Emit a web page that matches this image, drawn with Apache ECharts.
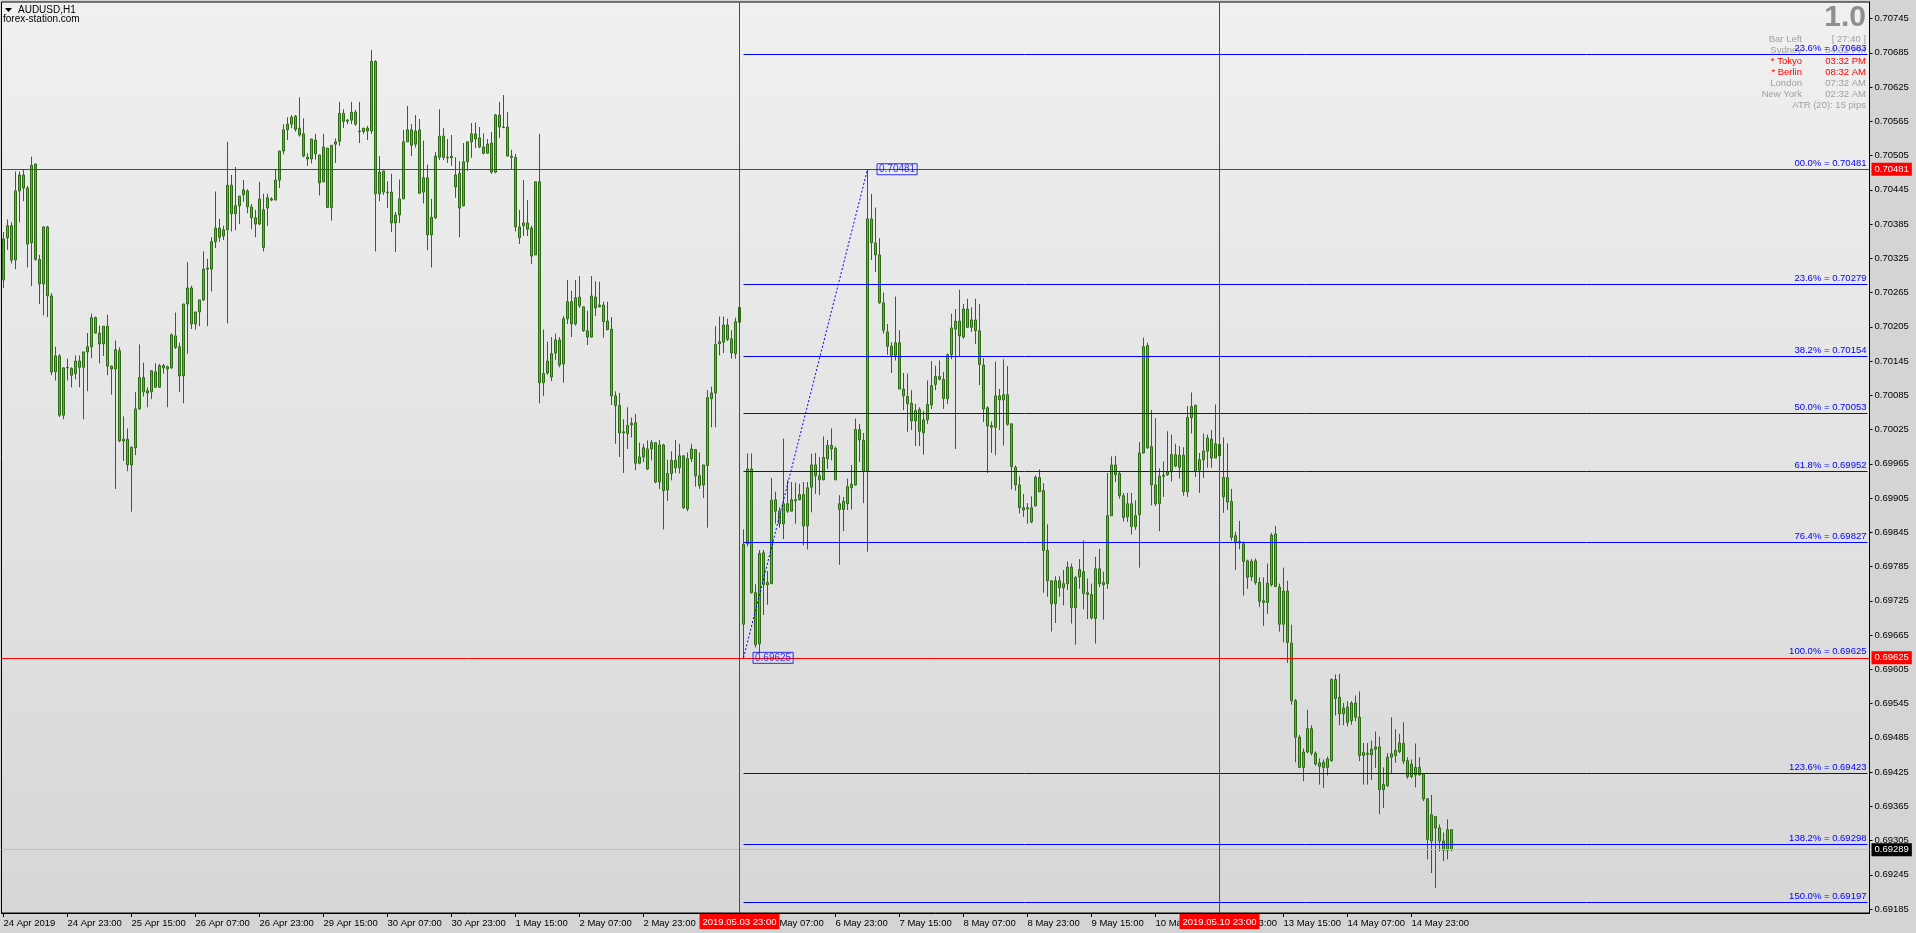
<!DOCTYPE html>
<html><head><meta charset="utf-8">
<script src="https://cdn.jsdelivr.net/npm/echarts@6/dist/echarts.min.js"></script>
<style>html,body{margin:0;padding:0;background:#d4d4d4;overflow:hidden}#c{width:1916px;height:933px}</style>
</head><body><div id="c"></div>
<script>
// ---- data (AUDUSD H1) ----
const opens=[
0.70287,0.70361,0.70382,0.70322,0.70443,0.70471,0.70448,0.70352,0.70490,0.70323,
0.70280,0.70380,0.70259,0.70126,0.70154,0.70050,0.70133,0.70132,0.70123,0.70145,
0.70134,0.70161,0.70170,0.70221,0.70194,0.70175,0.70206,0.70136,0.70131,0.70163,
0.70005,0.70008,0.69963,0.69993,0.70061,0.70116,0.70093,0.70091,0.70126,0.70099,
0.70137,0.70131,0.70133,0.70189,0.70170,0.70119,0.70245,0.70273,0.70210,0.70231,
0.70252,0.70306,0.70306,0.70354,0.70378,0.70364,0.70375,0.70453,0.70403,0.70417,
0.70436,0.70443,0.70415,0.70396,0.70385,0.70344,0.70413,0.70427,0.70427,0.70462,
0.70513,0.70550,0.70560,0.70574,0.70553,0.70543,0.70502,0.70499,0.70532,0.70506,
0.70459,0.70518,0.70414,0.70525,0.70530,0.70579,0.70565,0.70567,0.70581,0.70548,
0.70547,0.70553,0.70548,0.70670,0.70438,0.70478,0.70441,0.70441,0.70387,0.70401,
0.70429,0.70529,0.70550,0.70525,0.70550,0.70441,0.70466,0.70366,0.70396,0.70502,
0.70539,0.70502,0.70501,0.70450,0.70474,0.70417,0.70494,0.70529,0.70543,0.70536,
0.70520,0.70509,0.70527,0.70476,0.70576,0.70555,0.70555,0.70504,0.70502,0.70380,
0.70382,0.70387,0.70378,0.70331,0.70459,0.70107,0.70124,0.70117,0.70159,0.70182,
0.70140,0.70219,0.70249,0.70210,0.70257,0.70240,0.70198,0.70187,0.70257,0.70240,
0.70243,0.70215,0.70201,0.70084,0.70067,0.70019,0.70018,0.70033,0.70037,0.69966,
0.69977,0.69956,0.69991,0.70002,0.69933,0.69998,0.69919,0.69948,0.69971,0.69958,
0.69979,0.69886,0.69974,0.69990,0.69944,0.69928,0.69962,0.70079,0.70089,0.70175,
0.70178,0.70208,0.70184,0.70158,0.70239,0.69684,0.69825,0.69956,0.69739,0.69650,
0.69809,0.69753,0.69755,0.69902,0.69882,0.69860,0.69895,0.69882,0.69900,0.69902,
0.69911,0.69856,0.69924,0.69963,0.69944,0.69937,0.69974,0.69997,0.69992,0.69895,
0.69885,0.69895,0.69923,0.69928,0.70025,0.70006,0.69952,0.70394,0.70352,0.70331,
0.70247,0.70196,0.70171,0.70155,0.70177,0.70096,0.70083,0.70071,0.70040,0.70060,
0.70019,0.70042,0.70068,0.70104,0.70118,0.70113,0.70079,0.70156,0.70201,0.70215,
0.70187,0.70236,0.70204,0.70217,0.70198,0.70138,0.70063,0.70032,0.70029,0.70084,
0.70077,0.70086,0.70035,0.69959,0.69928,0.69888,0.69886,0.69863,0.69891,0.69941,
0.69918,0.69813,0.69760,0.69720,0.69760,0.69748,0.69755,0.69784,0.69713,0.69767,
0.69776,0.69736,0.69736,0.69694,0.69781,0.69753,0.69755,0.69874,0.69963,0.69948,
0.69909,0.69872,0.69895,0.69855,0.69876,0.69984,0.70172,0.69995,0.69928,0.69895,
0.69943,0.69946,0.69951,0.69981,0.69980,0.69980,0.69916,0.70046,0.70067,0.69954,
0.69972,0.69987,0.70008,0.69975,0.69999,0.69907,0.69941,0.69899,0.69839,0.69827,
0.69825,0.69795,0.69767,0.69795,0.69757,0.69722,0.69722,0.69753,0.69842,0.69749,
0.69684,0.69742,0.69651,0.69550,0.69486,0.69433,0.69460,0.69501,0.69458,0.69435,
0.69433,0.69433,0.69445,0.69587,0.69556,0.69527,0.69539,0.69515,0.69546,0.69521,
0.69454,0.69456,0.69455,0.69465,0.69469,0.69394,0.69401,0.69451,0.69454,0.69461,
0.69475,0.69445,0.69417,0.69420,0.69433,0.69422,0.69378,0.69304,0.69347,0.69327,
0.69304,0.69288,0.69324];
const highs=[
0.70371,0.70393,0.70388,0.70477,0.70477,0.70481,0.70452,0.70503,0.70491,0.70331,
0.70381,0.70382,0.70264,0.70170,0.70157,0.70134,0.70149,0.70134,0.70155,0.70155,
0.70161,0.70194,0.70228,0.70223,0.70207,0.70206,0.70226,0.70137,0.70181,0.70169,
0.70048,0.70027,0.69995,0.70091,0.70174,0.70142,0.70099,0.70128,0.70141,0.70140,
0.70140,0.70137,0.70193,0.70230,0.70177,0.70245,0.70318,0.70277,0.70231,0.70252,
0.70337,0.70324,0.70362,0.70442,0.70394,0.70382,0.70529,0.70471,0.70485,0.70434,
0.70462,0.70446,0.70420,0.70410,0.70459,0.70438,0.70438,0.70432,0.70480,0.70513,
0.70560,0.70572,0.70576,0.70576,0.70607,0.70570,0.70509,0.70534,0.70543,0.70506,
0.70543,0.70518,0.70523,0.70535,0.70599,0.70586,0.70569,0.70599,0.70585,0.70599,
0.70553,0.70557,0.70690,0.70672,0.70504,0.70478,0.70460,0.70473,0.70406,0.70463,
0.70550,0.70592,0.70560,0.70576,0.70569,0.70531,0.70489,0.70429,0.70511,0.70586,
0.70553,0.70534,0.70541,0.70502,0.70495,0.70527,0.70529,0.70562,0.70563,0.70555,
0.70544,0.70534,0.70546,0.70578,0.70599,0.70611,0.70581,0.70515,0.70508,0.70410,
0.70462,0.70427,0.70382,0.70459,0.70543,0.70200,0.70179,0.70187,0.70193,0.70187,
0.70224,0.70287,0.70268,0.70287,0.70294,0.70240,0.70233,0.70294,0.70285,0.70284,
0.70249,0.70249,0.70222,0.70092,0.70089,0.70043,0.70064,0.70046,0.70052,0.70002,
0.70000,0.70006,0.70007,0.70003,0.70007,0.70000,0.69972,0.69987,0.70007,0.70000,
0.69980,0.69985,0.70000,0.69991,0.69985,0.69963,0.70094,0.70100,0.70206,0.70223,
0.70223,0.70219,0.70199,0.70221,0.70250,0.69850,0.69983,0.69983,0.69754,0.69814,
0.69814,0.69777,0.69940,0.69916,0.69889,0.70009,0.69936,0.69933,0.69932,0.69930,
0.69933,0.69933,0.69983,0.69984,0.69977,0.70013,0.70007,0.70027,0.69995,0.69910,
0.69907,0.69939,0.69963,0.70044,0.70035,0.70019,0.70481,0.70438,0.70414,0.70360,
0.70265,0.70210,0.70178,0.70258,0.70199,0.70124,0.70123,0.70094,0.70070,0.70064,
0.70058,0.70111,0.70145,0.70137,0.70146,0.70126,0.70158,0.70228,0.70236,0.70270,
0.70245,0.70254,0.70239,0.70254,0.70245,0.70150,0.70066,0.70039,0.70144,0.70096,
0.70148,0.70136,0.70035,0.69962,0.69943,0.69912,0.69896,0.69908,0.69945,0.69955,
0.69931,0.69859,0.69760,0.69768,0.69768,0.69779,0.69794,0.69790,0.69768,0.69798,
0.69831,0.69764,0.69755,0.69802,0.69816,0.69776,0.69949,0.69978,0.69979,0.69951,
0.69914,0.69914,0.69914,0.69901,0.70003,0.70186,0.70177,0.70059,0.70045,0.69957,
0.69969,0.70022,0.70016,0.70000,0.69996,0.69994,0.70066,0.70090,0.70069,0.69984,
0.70018,0.70016,0.70024,0.70069,0.70003,0.70011,0.70001,0.69921,0.69846,0.69865,
0.69829,0.69797,0.69798,0.69799,0.69766,0.69766,0.69790,0.69844,0.69856,0.69755,
0.69783,0.69760,0.69683,0.69553,0.69490,0.69466,0.69534,0.69507,0.69461,0.69449,
0.69447,0.69452,0.69589,0.69596,0.69597,0.69546,0.69549,0.69549,0.69559,0.69566,
0.69476,0.69476,0.69480,0.69496,0.69487,0.69433,0.69458,0.69521,0.69500,0.69492,
0.69512,0.69451,0.69447,0.69475,0.69451,0.69423,0.69379,0.69385,0.69347,0.69333,
0.69319,0.69342,0.69325];
const lows=[
0.70273,0.70340,0.70316,0.70306,0.70388,0.70425,0.70309,0.70276,0.70321,0.70245,
0.70225,0.70222,0.70120,0.70111,0.70047,0.70043,0.70111,0.70099,0.70113,0.70099,
0.70043,0.70092,0.70150,0.70193,0.70141,0.70154,0.70120,0.70086,0.69921,0.70003,
0.69970,0.69952,0.69881,0.69980,0.70060,0.70083,0.70064,0.70078,0.70098,0.70098,
0.70123,0.70064,0.70131,0.70166,0.70091,0.70071,0.70158,0.70201,0.70200,0.70206,
0.70250,0.70206,0.70267,0.70343,0.70354,0.70357,0.70211,0.70372,0.70374,0.70385,
0.70424,0.70404,0.70376,0.70362,0.70383,0.70337,0.70382,0.70425,0.70427,0.70448,
0.70507,0.70532,0.70553,0.70547,0.70538,0.70502,0.70487,0.70491,0.70498,0.70435,
0.70458,0.70413,0.70391,0.70492,0.70522,0.70553,0.70560,0.70560,0.70557,0.70527,
0.70543,0.70532,0.70543,0.70337,0.70425,0.70436,0.70413,0.70371,0.70336,0.70387,
0.70429,0.70529,0.70504,0.70519,0.70438,0.70421,0.70339,0.70309,0.70394,0.70497,
0.70497,0.70492,0.70487,0.70431,0.70362,0.70416,0.70478,0.70501,0.70518,0.70518,
0.70507,0.70508,0.70473,0.70474,0.70536,0.70553,0.70504,0.70480,0.70372,0.70350,
0.70364,0.70364,0.70315,0.70331,0.70071,0.70084,0.70121,0.70110,0.70147,0.70134,
0.70107,0.70210,0.70187,0.70207,0.70238,0.70196,0.70173,0.70186,0.70224,0.70239,
0.70186,0.70199,0.70068,0.70000,0.69977,0.69949,0.69991,0.70011,0.69954,0.69964,
0.69968,0.69954,0.69971,0.69931,0.69921,0.69850,0.69900,0.69936,0.69949,0.69948,
0.69886,0.69882,0.69968,0.69925,0.69921,0.69905,0.69853,0.70029,0.70029,0.70155,
0.70159,0.70180,0.70149,0.70149,0.70205,0.69625,0.69820,0.69738,0.69643,0.69633,
0.69700,0.69718,0.69755,0.69860,0.69853,0.69833,0.69879,0.69882,0.69860,0.69901,
0.69822,0.69815,0.69880,0.69912,0.69910,0.69936,0.69956,0.69971,0.69936,0.69788,
0.69847,0.69884,0.69885,0.69927,0.69968,0.69896,0.69811,0.70322,0.70301,0.70245,
0.70193,0.70156,0.70124,0.70146,0.70096,0.70059,0.70021,0.70024,0.69996,0.69996,
0.69981,0.70035,0.70061,0.70094,0.70111,0.70061,0.70070,0.70148,0.69991,0.70152,
0.70184,0.70203,0.70196,0.70175,0.70103,0.70038,0.69949,0.69984,0.69980,0.70024,
0.69997,0.70032,0.69920,0.69918,0.69878,0.69872,0.69860,0.69861,0.69891,0.69916,
0.69739,0.69732,0.69671,0.69686,0.69732,0.69717,0.69744,0.69685,0.69648,0.69746,
0.69710,0.69693,0.69692,0.69650,0.69749,0.69692,0.69746,0.69874,0.69933,0.69904,
0.69864,0.69863,0.69841,0.69849,0.69783,0.69983,0.69991,0.69892,0.69891,0.69847,
0.69907,0.69944,0.69934,0.69959,0.69939,0.69909,0.69907,0.70018,0.69942,0.69914,
0.69940,0.69958,0.69958,0.69975,0.69977,0.69879,0.69884,0.69830,0.69779,0.69815,
0.69734,0.69746,0.69760,0.69753,0.69714,0.69681,0.69702,0.69750,0.69749,0.69671,
0.69652,0.69616,0.69543,0.69442,0.69432,0.69409,0.69458,0.69454,0.69436,0.69403,
0.69397,0.69419,0.69443,0.69524,0.69507,0.69507,0.69505,0.69508,0.69514,0.69444,
0.69403,0.69403,0.69411,0.69432,0.69351,0.69362,0.69399,0.69422,0.69441,0.69458,
0.69439,0.69413,0.69414,0.69398,0.69419,0.69374,0.69272,0.69248,0.69222,0.69286,
0.69269,0.69272,0.69286];
const closes=[
0.70359,0.70382,0.70322,0.70443,0.70471,0.70448,0.70350,0.70488,0.70323,0.70280,
0.70380,0.70259,0.70126,0.70154,0.70050,0.70133,0.70134,0.70120,0.70145,0.70134,
0.70161,0.70170,0.70221,0.70194,0.70175,0.70206,0.70136,0.70131,0.70165,0.70005,
0.70008,0.69963,0.69994,0.70061,0.70116,0.70091,0.70089,0.70128,0.70099,0.70137,
0.70133,0.70135,0.70191,0.70169,0.70119,0.70245,0.70273,0.70210,0.70231,0.70252,
0.70306,0.70308,0.70354,0.70378,0.70362,0.70375,0.70453,0.70403,0.70417,0.70434,
0.70445,0.70415,0.70396,0.70385,0.70429,0.70410,0.70431,0.70429,0.70462,0.70513,
0.70550,0.70560,0.70572,0.70551,0.70541,0.70504,0.70499,0.70534,0.70508,0.70457,
0.70520,0.70414,0.70523,0.70529,0.70579,0.70565,0.70567,0.70581,0.70560,0.70547,
0.70553,0.70548,0.70670,0.70438,0.70476,0.70441,0.70440,0.70387,0.70401,0.70429,
0.70529,0.70550,0.70523,0.70548,0.70439,0.70466,0.70366,0.70397,0.70504,0.70539,
0.70502,0.70501,0.70504,0.70471,0.70413,0.70494,0.70529,0.70543,0.70534,0.70520,
0.70509,0.70525,0.70476,0.70576,0.70555,0.70554,0.70504,0.70502,0.70380,0.70361,
0.70387,0.70376,0.70329,0.70459,0.70107,0.70123,0.70145,0.70158,0.70182,0.70138,
0.70219,0.70249,0.70210,0.70256,0.70242,0.70198,0.70187,0.70259,0.70238,0.70243,
0.70214,0.70200,0.70084,0.70067,0.70019,0.70021,0.70032,0.70036,0.69966,0.69977,
0.69993,0.69991,0.70002,0.69933,0.69998,0.69918,0.69948,0.69971,0.69958,0.69979,
0.69888,0.69974,0.69991,0.69944,0.69927,0.69963,0.70081,0.70089,0.70174,0.70179,
0.70208,0.70183,0.70159,0.70214,0.70213,0.69824,0.69956,0.69739,0.69648,0.69808,
0.69753,0.69757,0.69901,0.69882,0.69860,0.69895,0.69882,0.69902,0.69902,0.69911,
0.69856,0.69923,0.69963,0.69944,0.69937,0.69976,0.69997,0.69991,0.69937,0.69885,
0.69899,0.69925,0.69929,0.70025,0.70007,0.69952,0.70394,0.70352,0.70331,0.70247,
0.70199,0.70171,0.70155,0.70177,0.70096,0.70084,0.70070,0.70040,0.70058,0.70022,
0.70042,0.70069,0.70102,0.70118,0.70113,0.70079,0.70156,0.70203,0.70215,0.70189,
0.70236,0.70204,0.70217,0.70198,0.70139,0.70061,0.70031,0.70029,0.70084,0.70077,
0.70086,0.70034,0.69960,0.69928,0.69888,0.69884,0.69888,0.69888,0.69941,0.69916,
0.69813,0.69760,0.69720,0.69760,0.69748,0.69755,0.69784,0.69713,0.69766,0.69780,
0.69738,0.69739,0.69695,0.69781,0.69755,0.69757,0.69874,0.69963,0.69946,0.69909,
0.69871,0.69895,0.69855,0.69874,0.69984,0.70170,0.69993,0.69928,0.69895,0.69943,
0.69945,0.69951,0.69981,0.69961,0.69959,0.69916,0.70046,0.70065,0.69952,0.69972,
0.69987,0.70010,0.69975,0.70000,0.69979,0.69941,0.69898,0.69836,0.69827,0.69829,
0.69794,0.69766,0.69794,0.69757,0.69724,0.69725,0.69756,0.69840,0.69750,0.69684,
0.69742,0.69652,0.69550,0.69486,0.69433,0.69460,0.69501,0.69458,0.69439,0.69441,
0.69442,0.69448,0.69587,0.69554,0.69527,0.69537,0.69512,0.69546,0.69521,0.69454,
0.69459,0.69458,0.69465,0.69469,0.69394,0.69403,0.69451,0.69457,0.69463,0.69476,
0.69444,0.69417,0.69439,0.69433,0.69420,0.69378,0.69307,0.69350,0.69327,0.69304,
0.69288,0.69324,0.69289];

const tickLabels=['24 Apr 2019','24 Apr 23:00','25 Apr 15:00','26 Apr 07:00','26 Apr 23:00','29 Apr 15:00',
'30 Apr 07:00','30 Apr 23:00','1 May 15:00','2 May 07:00','2 May 23:00','3 May 15:00','6 May 07:00',
'6 May 23:00','7 May 15:00','8 May 07:00','8 May 23:00','9 May 15:00','10 May 07:00','10 May 23:00',
'13 May 15:00','14 May 07:00','14 May 23:00'];
const yTicks=[0.69185,0.69245,0.69305,0.69365,0.69425,0.69485,0.69545,0.69605,0.69665,0.69725,0.69785,
0.69845,0.69905,0.69965,0.70025,0.70085,0.70145,0.70205,0.70265,0.70325,0.70385,0.70445,0.70505,
0.70565,0.70625,0.70685,0.70745];
const fibNames=['23.6%','00.0%','23.6%','38.2%','50.0%','61.8%','76.4%','100.0%','123.6%','138.2%','150.0%'];
const fibValues=[0.70683,0.70481,0.70279,0.70154,0.70053,0.69952,0.69827,0.69625,0.69423,0.69298,0.69197];
const fibStartIdx=185, fibHighIdx=216;
const fibLow=0.69625, fibHigh=0.70481;
const bidPrice=0.69289;
const sessionLines=[{idx:184,label:'2019.05.03 23:00'},{idx:304,label:'2019.05.10 23:00'}];
const panelRows=[['Bar Left','[ 27:40 ]','#a0a0a0'],['Sydney','04:32 PM','#a0a0a0'],['* Tokyo','03:32 PM','#ff0000'],
['* Berlin','08:32 AM','#ff0000'],['London','07:32 AM','#a0a0a0'],['New York','02:32 AM','#a0a0a0']];

// ---- categories: hourly bars, weekends skipped, plus empty space on the right ----
const SLOTS=467;
const MON=['Jan','Feb','Mar','Apr','May','Jun','Jul','Aug','Sep','Oct','Nov','Dec'];
const categories=[];
let t=Date.UTC(2019,3,24,7);
while(categories.length<SLOTS){const d=new Date(t);const wd=d.getUTCDay();
 if(wd!==0&&wd!==6){categories.push(d.getUTCDate()+' '+MON[d.getUTCMonth()]+' '+String(d.getUTCHours()).padStart(2,'0')+':00');}
 t+=3600000;}
const candleData=opens.map((o,i)=>[o,closes[i],lows[i],highs[i]]);
const lastIdx=opens.length-1;

const FONT='Liberation Sans';
const chart=echarts.init(document.getElementById('c'),null,{renderer:'canvas'});

const markData=[];
fibValues.forEach((v,k)=>{
 markData.push([
  {coord:[fibStartIdx,v],lineStyle:{color:'#0000ff',width:1,type:'solid'},
   label:{show:true,position:'insideEndTop',formatter:fibNames[k]+' = '+v.toFixed(5),color:'#0000ff',fontSize:9.5,fontFamily:FONT,distance:1}},
  {coord:[SLOTS-1,v],lineStyle:{color:'#0000ff',width:1,type:'solid'}}
 ]);
});
markData.push([
 {coord:[fibStartIdx,fibLow],lineStyle:{color:'#0000ff',width:1,type:[2,2]},label:{show:false}},
 {coord:[fibHighIdx,fibHigh],lineStyle:{color:'#0000ff',width:1,type:[2,2]},label:{show:false}}
]);
[fibHigh,fibLow].forEach(v=>{
 markData.push({yAxis:v,lineStyle:{color:'#ff0000',width:1,type:'solid'},
  label:{show:true,position:'end',formatter:v.toFixed(5),backgroundColor:'#ff0000',color:'#ffffff',padding:[2,3,1,3],distance:2,fontSize:9.5,fontFamily:FONT}});
});
markData.push({yAxis:bidPrice,lineStyle:{color:'#c0c0c0',width:1,type:'solid'},
 label:{show:true,position:'end',formatter:bidPrice.toFixed(5),backgroundColor:'#000000',color:'#ffffff',padding:[2,3,1,3],distance:2,fontSize:9.5,fontFamily:FONT}});
sessionLines.forEach(s=>{
 markData.push({xAxis:s.idx,lineStyle:{color:'#ff0000',width:1,type:'solid'},
  label:{show:true,position:'start',formatter:s.label,backgroundColor:'#ff0000',color:'#ffffff',padding:[3,3,2,3],distance:1,fontSize:9.5,fontFamily:FONT}});
});

const graphics=[
 {type:'polygon',shape:{points:[[5,8],[12,8],[8.5,12]]},style:{fill:'#000'}},
 {type:'text',x:18,y:10.5,style:{text:'AUDUSD,H1',fill:'#000',font:'10px "Liberation Sans"',textVerticalAlign:'middle'}},
 {type:'text',x:3,y:19.5,style:{text:'forex-station.com',fill:'#000',font:'10px "Liberation Sans"',textVerticalAlign:'middle'}},
 {type:'text',x:1866,y:18,style:{text:'1.0',fill:'#8f8f8f',font:'bold 30px "Liberation Sans"',textAlign:'right',textVerticalAlign:'middle'}},
 {type:'text',x:1866,y:105,style:{text:'ATR (20): 15 pips',fill:'#a0a0a0',font:'9.5px "Liberation Sans"',textAlign:'right',textVerticalAlign:'middle'}}
];
panelRows.forEach((r,k)=>{
 const y=39+k*11;
 graphics.push({type:'text',x:1802,y:y,style:{text:r[0],fill:r[2],font:'9.5px "Liberation Sans"',textAlign:'right',textVerticalAlign:'middle'}});
 graphics.push({type:'text',x:1866,y:y,style:{text:r[1],fill:r[2],font:'9.5px "Liberation Sans"',textAlign:'right',textVerticalAlign:'middle'}});
});

chart.setOption({
 animation:false,
 backgroundColor:'#d4d4d4',
 textStyle:{fontFamily:FONT},
 grid:{left:1.5,right:46.5,top:2,bottom:20,show:true,borderColor:'#000',borderWidth:1,
  backgroundColor:new echarts.graphic.LinearGradient(0,0,0,1,[{offset:0,color:'#f0f0f0'},{offset:1,color:'#d7d7d7'}])},
 xAxis:{type:'category',data:categories,boundaryGap:true,
  axisLine:{show:true,lineStyle:{color:'#000',width:1}},
  axisTick:{show:true,alignWithLabel:true,length:4,interval:(i)=>i%16===0&&i<=lastIdx,lineStyle:{color:'#000'}},
  axisLabel:{show:true,interval:(i)=>i%16===0&&i<=lastIdx,formatter:(v,i)=>tickLabels[Math.round(i/16)]||'',
   align:'left',margin:5,color:'#000',fontSize:9.5,fontFamily:FONT},
  splitLine:{show:false}},
 yAxis:{type:'value',position:'right',min:0.69178,max:0.70774,scale:true,
  axisLine:{show:true,lineStyle:{color:'#000',width:1}},
  axisTick:{show:true,length:3,customValues:yTicks,lineStyle:{color:'#000'}},
  axisLabel:{show:true,customValues:yTicks,formatter:(v)=>Number(v).toFixed(5),margin:5,color:'#000',fontSize:9.5,fontFamily:FONT},
  splitLine:{show:false}},
 series:[
  {type:'candlestick',data:candleData,barWidth:2,silent:true,
   itemStyle:{color:'#44c044',color0:'#e8694a',borderColor:'#2d6a16',borderColor0:'#2d6a16',borderWidth:1},
   emphasis:{disabled:true},
   markLine:{symbol:['none','none'],silent:true,animation:false,precision:5,data:markData}},
  {type:'scatter',data:[[fibHighIdx,fibHigh],[fibStartIdx,fibLow]],symbolSize:1,silent:true,z:5,
   itemStyle:{color:'rgba(0,0,0,0)'},
   label:{show:true,position:'right',distance:9,formatter:(p)=>Number(p.value[1]).toFixed(5),color:'#0000ff',
    borderColor:'#0000ff',borderWidth:1,padding:[1,2,0,2],fontSize:10,fontFamily:FONT}}
 ],
 graphic:graphics
});
</script></body></html>
